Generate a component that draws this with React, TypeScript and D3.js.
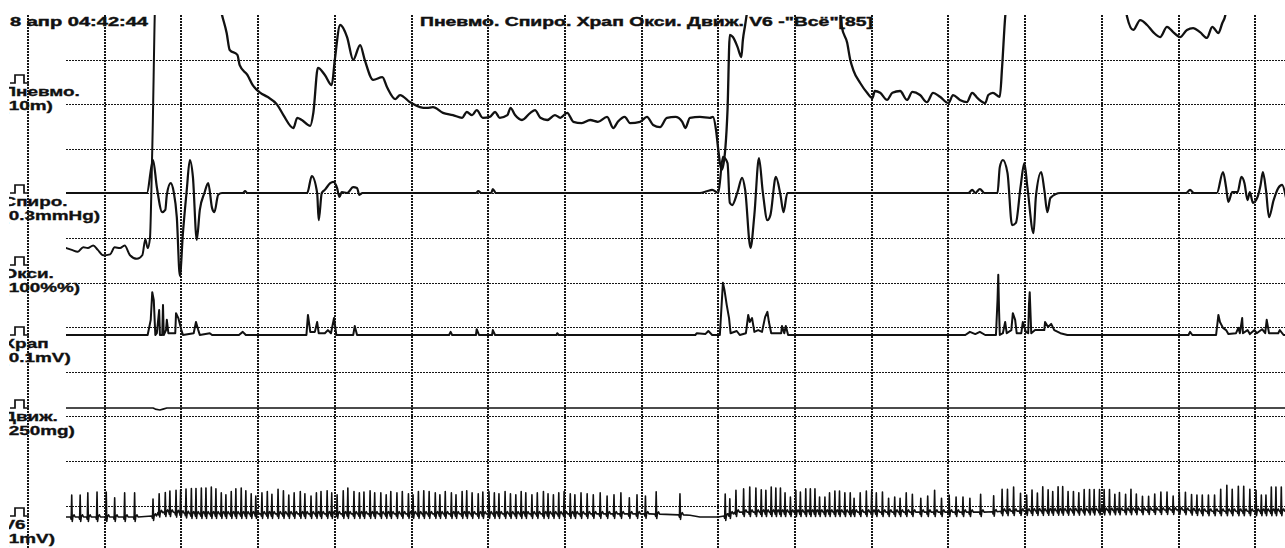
import React from "react";
import * as d3 from "d3";

// screen: 18 апр, one page of the polygraph record, time in seconds (10 s per grid cell)
const titleText = 'Пневмо. Спиро. Храп Окси. Движ. V6 -"Всё"[85]';
const stampText = "8 апр 04:42:44";
const channelNames = ["Пневмо.", "Спиро.", "Окси.", "Храп", "Движ.", "V6"];
const channelUnits = ["(10m)", "(0.3mmHg)", "(100%%)", "(0.1mV)", "(250mg)", "(1mV)"];

// Пневмо. [t, value], 10 units per division, values above 30 are off scale
const pneumo: [number, number][] = [
  [5, 40], [24, 40], [25.3, 30], [25.9, 26], [26.3, 22.2], [27.3, 21.1], [27.6, 18.8],
  [28.6, 16.6], [29.3, 14.3], [30.3, 12.6], [31.2, 11.7], [32.5, 9.9], [33.3, 7.6],
  [34.6, 4.7], [35.1, 7.0], [35.7, 6.5], [36.8, 5.2], [37.2, 8.1], [37.8, 18.2],
  [38.7, 16.6], [39.6, 14.3], [40.0, 20.0], [40.7, 27.8], [41.6, 25.1], [42.4, 20.0],
  [43.3, 23.3], [43.9, 20.0], [45.0, 15.5], [46.2, 16.1], [46.8, 13.9], [47.9, 11.2],
  [48.5, 12.1], [49.8, 10.5], [51.1, 9.4], [52.0, 9.2], [52.8, 9.4], [54.1, 8.1],
  [55.4, 7.6], [56.6, 7.0], [57.2, 8.3], [57.9, 7.6], [58.5, 8.7], [59.3, 7.0],
  [60.2, 7.2], [60.9, 8.3], [61.5, 7.0], [62.5, 7.6], [62.9, 9.2], [63.5, 7.6],
  [64.4, 6.5], [65.5, 8.1], [66.1, 8.7], [66.8, 7.0], [67.7, 6.5], [68.7, 7.6],
  [69.4, 7.0], [70.3, 8.1], [71.1, 6.1], [72.2, 5.8], [73.3, 6.5], [74.3, 6.1],
  [75.5, 7.2], [76.3, 4.7], [76.9, 6.1], [77.8, 7.2], [78.5, 5.8], [79.8, 6.1],
  [80.7, 7.2], [81.5, 5.4], [82.4, 4.9], [83.3, 7.0], [84.4, 7.2], [85.3, 6.1],
  [85.7, 4.7], [86.3, 7.0], [87.6, 7.2], [88.9, 7.0], [89.3, 7.2], [89.7, 4.3],
  [90.0, -0.2], [90.4, -4.7], [90.6, -4.0], [91.2, 8.7], [91.5, 25.6], [91.9, 25.1],
  [92.5, 22.9], [93.0, 20.6], [93.2, 24.4], [93.5, 27.8], [93.9, 32.3], [95, 40],
  [105, 40], [105.6, 35.6], [106.1, 27.4], [106.8, 23.8], [107.2, 20.0], [107.6, 17.7],
  [108.5, 14.8], [109.4, 12.6], [110.1, 11.4], [110.4, 13.0], [111.1, 12.6], [112.0, 11.0],
  [112.7, 12.6], [113.7, 13.0], [114.6, 11.0], [115.3, 12.8], [116.3, 12.1], [117.2, 10.5],
  [118.0, 12.6], [118.9, 11.7], [120.0, 10.3], [120.6, 12.1], [121.5, 11.0], [122.4, 10.5],
  [123.1, 12.6], [123.8, 11.4], [124.8, 10.3], [125.2, 12.1], [125.8, 12.6], [126.7, 11.7],
  [127.0, 18.4], [127.4, 29.6], [127.8, 35.6], [129, 40], [142, 40], [142.8, 35.6],
  [143.3, 29.6], [144.1, 26.7], [145.0, 28.9], [145.9, 27.8], [146.7, 26.2], [147.6, 25.1],
  [148.5, 27.4], [149.3, 26.2], [150.2, 25.1], [151.1, 26.7], [151.9, 27.1], [152.8, 26.2],
  [153.7, 24.9], [154.4, 27.4], [155.2, 26.0], [155.7, 28.2], [156.1, 30.0], [156.5, 35.6],
  [158, 40], [164, 40],
];

// Спиро. [t, value], 10 units per division
const spiro: [number, number][] = [
  [5, 0], [15.5, 0], [16.3, 7.4], [16.8, 1.3], [17.5, -4.3], [17.9, -3.8], [18.1, -0.4],
  [18.6, 2.2], [19.0, 0.2], [19.4, -5.4], [19.8, -18.6], [20.2, -9.0], [20.7, 0.7],
  [21.1, 7.4], [21.5, 3.6], [22.0, -10.5], [22.4, -3.8], [23.0, 0], [23.5, 2.2],
  [24.0, -3.4], [24.3, -4.3], [24.8, -0.4], [25.3, 0], [28.0, 0], [28.3, 0.4], [28.6, 0],
  [36.4, 0], [37.0, 3.8], [37.7, 0], [37.9, -6.1], [38.3, 0], [38.7, 0.7], [39.4, 2.2],
  [39.8, 2.5], [40.3, 1.1], [40.6, -0.9], [40.9, 0.2], [41.6, 0], [42.4, 1.3], [42.9, 1.1],
  [43.2, -0.4], [43.6, 0], [58.4, 0], [58.7, 0.4], [59.1, 0], [60.4, 0], [60.6, 0.9],
  [61.0, 0], [87.6, 0], [88.5, 0.4], [89.2, 0.7], [90.0, 0], [90.6, 8.1], [91.2, 6.7],
  [91.5, -2.2], [91.8, -2.7], [92.5, 0.2], [93.1, 3.4], [93.5, 0.7], [94.2, -12.3],
  [94.7, -4.9], [95.3, 7.8], [95.8, 0.2], [96.4, -6.1], [96.8, -4.9], [97.5, 3.6],
  [98.1, -0.4], [98.5, -4.3], [99.0, 0], [122.6, 0], [123.1, 0.7], [123.5, 0], [124.1, 0.9],
  [124.7, 0], [126.4, 0], [126.7, 5.8], [127.1, 7.4], [127.7, 4.5], [128.3, -7.2],
  [128.8, -6.7], [129.4, 1.3], [129.9, 6.7], [130.3, 1.3], [131.1, -9.0], [131.4, -0.9],
  [132.1, 4.7], [132.5, 0.7], [132.9, -4.3], [133.3, -1.1], [134.6, 0], [151.0, 0],
  [151.5, 0.7], [152.0, 0], [155.0, 0], [155.8, 4.7], [156.2, 1.3], [156.5, -2.0],
  [157.0, 0.2], [157.7, 0.2], [158.2, 3.6], [158.6, 2.2], [159.0, -1.6], [159.3, 0.2],
  [159.7, -2.2], [160.3, -0.9], [160.7, 1.8], [161.0, 4.7], [161.4, 0.7], [161.8, -5.4],
  [162.4, -1.6], [163.0, 1.1], [163.5, 1.8], [164, -0.9],
];

// Окси. [t, %], 5 % per division, off scale after the jump
const oxy: [number, number][] = [
  [5, 93.8], [5.7, 93.6], [6.5, 93.4], [7.2, 93.9], [7.8, 93.8], [8.5, 94.1], [9.1, 93.6],
  [9.8, 93.0], [10.7, 93.1], [11.3, 93.9], [12.0, 93.8], [12.6, 94.1], [13.3, 93.0],
  [14.2, 92.6], [14.9, 93.0], [15.3, 94.8], [15.6, 93.8], [15.9, 94.9], [16.2, 104.8],
  [16.7, 124], [164, 124],
];

// Храп [t, µV]
const snore: [number, number][] = [
  [5, 0], [15.6, 0], [16.0, 34], [16.2, 96], [16.4, 78], [16.6, 0], [16.8, 4], [17.1, 56],
  [17.2, 0], [17.5, 0], [17.6, 67], [17.7, 0], [18.0, 11], [18.1, 34], [18.3, 4], [19.2, 4],
  [19.3, 49], [19.6, 38], [20.0, 11], [20.2, 0], [21.6, 4], [21.9, 29], [22.2, 11], [22.4, 0],
  [23.7, 4], [24.0, 0], [27.5, 0], [28.0, 7], [28.4, 0], [36.3, 0], [36.5, 45], [36.8, 7],
  [37.4, 7], [37.7, 29], [37.9, 4], [38.7, 4], [39.1, 11], [39.5, 4], [39.9, 38], [40.2, 0],
  [42.4, 0], [42.6, 20], [42.9, 0], [54.9, 0], [55.1, 7], [55.3, 0], [58.4, 0], [58.5, 13],
  [58.8, 0], [60.5, 0], [60.6, 11], [60.9, 0], [68.9, 0], [69.0, 4], [69.2, 0], [87.0, 0],
  [87.2, 4], [88.3, 2], [88.7, 9], [89.2, 0], [90.2, 0], [90.6, 117], [90.8, 101], [91.1, 67],
  [91.4, 38], [91.6, 4], [92.4, 9], [92.8, 0], [93.6, 4], [93.9, 45], [94.1, 29], [94.4, 38],
  [94.7, 7], [95.2, 11], [95.7, 7], [96.1, 40], [96.4, 52], [96.6, 29], [96.9, 4], [98.2, 4],
  [98.3, 20], [98.6, 4], [98.8, 20], [99.1, 0], [122.2, 0], [122.8, 7], [123.5, 2], [124.1, 7],
  [124.8, 0], [126.2, 0], [126.4, 78], [126.5, 135], [126.6, 56], [126.7, 0], [127.1, 4],
  [127.4, 29], [127.6, 4], [128.2, 11], [128.4, 49], [128.7, 34], [128.9, 4], [129.5, 4],
  [129.7, 29], [130.1, 7], [130.4, 4], [130.5, 67], [130.6, 96], [130.8, 4], [131.3, 11],
  [132.5, 11], [132.6, 29], [133.0, 18], [133.4, 25], [133.8, 11], [134.6, 4], [135.5, 0],
  [151.3, 0], [151.5, 7], [151.8, 0], [154.9, 0], [155.2, 45], [155.4, 29], [155.8, 16],
  [156.2, 11], [156.5, 2], [157.5, 4], [157.8, 16], [158.0, 4], [158.3, 38], [158.4, 4],
  [159.0, 11], [159.3, 2], [159.9, 11], [160.2, 4], [160.9, 13], [161.3, 4], [161.5, 34],
  [161.8, 4], [163.0, 4], [163.2, 11], [163.7, 0], [164, 0],
];

// Движ. [t, mg]
const movement: [number, number][] = [
  [5, 0], [16.3, 0], [16.6, -6], [17.2, -11], [17.6, -6], [18.1, 0], [164, 0],
];

// V6 isoline drift [t, mV]
const ecgBaseline: [number, number][] = [
  [5, 0], [15.9, 0], [16.6, 0.04], [17.2, 0.11], [18.5, 0.11], [19.8, 0.09], [21.1, 0.07],
  [81.1, 0.07], [86.3, 0.04], [87.6, 0], [90.0, 0], [90.5, -0.04], [91.0, 0.04],
  [92.2, 0.11], [125.4, 0.11], [126.7, 0.13], [150.2, 0.16], [152.8, 0.13], [164, 0.13],
];

// V6 R waves [t, amplitude mV]
const ecgBeats: [number, number][] = [
  [5.7, 0.49], [6.8, 0.49], [7.8, 0.54], [9.0, 0.56], [10.2, 0.56], [11.3, 0.43], [12.6, 0.54], [13.9, 0.54],
  [16.3, 0.38], [17.1, 0.42], [17.9, 0.44], [18.5, 0.47], [19.3, 0.5], [19.9, 0.52], [20.6, 0.55],
  [21.3, 0.57], [21.9, 0.57], [22.6, 0.58], [23.2, 0.58], [23.9, 0.6], [24.5, 0.56], [25.2, 0.47],
  [25.8, 0.43], [26.5, 0.5], [27.1, 0.56], [27.8, 0.58], [28.4, 0.52], [29.1, 0.45], [29.7, 0.4],
  [30.5, 0.47], [31.2, 0.5], [31.8, 0.44], [32.6, 0.55], [33.3, 0.52], [34.0, 0.42], [34.7, 0.47],
  [35.5, 0.5], [36.1, 0.45], [36.9, 0.4], [37.6, 0.47], [38.2, 0.5], [39.0, 0.52], [39.6, 0.47],
  [40.3, 0.43], [41.1, 0.52], [41.7, 0.58], [42.5, 0.5], [43.2, 0.47], [43.8, 0.49], [44.6, 0.52],
  [45.2, 0.47], [46.0, 0.47], [46.7, 0.43], [47.3, 0.5], [48.1, 0.47], [48.8, 0.5], [49.6, 0.45],
  [50.2, 0.43], [50.9, 0.5], [51.6, 0.52], [52.3, 0.5], [53.1, 0.47], [53.7, 0.43], [54.4, 0.5],
  [55.2, 0.47], [55.8, 0.43], [56.6, 0.5], [57.2, 0.52], [57.9, 0.47], [58.7, 0.45], [59.3, 0.49],
  [60.1, 0.5], [60.8, 0.47], [61.4, 0.45], [62.2, 0.5], [62.9, 0.45], [63.6, 0.43], [64.3, 0.5],
  [64.9, 0.47], [65.7, 0.43], [66.4, 0.47], [67.2, 0.5], [67.8, 0.45], [68.5, 0.43], [69.2, 0.47],
  [69.9, 0.5], [70.7, 0.45], [71.3, 0.43], [72.1, 0.47], [72.9, 0.45], [73.7, 0.43], [74.6, 0.47],
  [75.5, 0.4], [76.4, 0.43], [77.3, 0.47], [78.4, 0.36], [79.4, 0.43], [80.5, 0.4], [81.9, 0.5],
  [85.0, 0.47],
  [90.9, 0.49], [91.5, 0.34], [92.3, 0.49], [93.3, 0.52], [94.1, 0.56], [94.9, 0.54], [95.6, 0.5],
  [96.2, 0.49], [96.9, 0.56], [97.5, 0.54], [98.1, 0.54], [98.7, 0.43], [99.4, 0.34], [100.1, 0.49],
  [100.7, 0.45], [101.4, 0.52], [102.0, 0.52], [102.6, 0.52], [103.2, 0.34], [103.9, 0.34],
  [104.5, 0.43], [105.2, 0.47], [105.8, 0.47], [106.5, 0.43], [107.2, 0.43], [107.7, 0.31],
  [108.5, 0.43], [109.3, 0.47], [110.0, 0.47], [110.6, 0.43], [111.4, 0.45], [112.2, 0.31],
  [113.0, 0.34], [113.7, 0.31], [114.5, 0.43], [115.3, 0.4], [116.4, 0.31], [117.3, 0.36],
  [118.2, 0.49], [119.1, 0.31], [120.1, 0.38], [121.0, 0.34], [121.9, 0.34], [122.8, 0.31],
  [124.2, 0.4], [125.9, 0.36],
  [127.0, 0.49], [127.7, 0.49], [128.5, 0.54], [129.4, 0.4], [130.2, 0.36], [130.9, 0.47],
  [131.6, 0.4], [132.3, 0.54], [133.0, 0.47], [133.6, 0.43], [134.3, 0.54], [134.9, 0.54],
  [135.6, 0.43], [136.3, 0.43], [137.0, 0.4], [137.7, 0.47], [138.4, 0.47], [139.0, 0.47],
  [139.7, 0.47], [140.3, 0.47], [141.0, 0.47], [141.7, 0.36], [142.3, 0.4], [143.1, 0.36],
  [143.8, 0.47], [144.5, 0.36], [145.3, 0.31], [146.1, 0.31], [146.9, 0.36], [147.7, 0.4],
  [148.5, 0.4], [149.3, 0.31], [150.1, 0.4], [150.9, 0.4], [151.7, 0.36], [152.4, 0.36],
  [153.1, 0.36], [153.9, 0.36], [154.7, 0.36], [155.5, 0.49], [156.3, 0.58], [157.0, 0.49],
  [157.8, 0.56], [158.5, 0.56], [159.3, 0.49], [160.1, 0.47], [160.8, 0.36], [161.4, 0.36],
  [162.1, 0.54], [162.7, 0.54], [163.4, 0.54],
];

const INK = "#111";
const GRID = "#161616";
const FONT = "'Liberation Sans', Arial, sans-serif";

export default function App() {
  const width = 1285,
    height = 548;
  const top = 15,
    plotLeft = 66;

  const x = d3.scaleLinear().domain([0, 164]).range([28, 1285.9]);
  const gridY = d3.scaleLinear().domain([0, 11]).range([top, 505.6]);

  const pneumoY = d3.scaleLinear().domain([0, 10]).range([149, 104.4]);
  const spiroY = d3.scaleLinear().domain([0, 10]).range([193, 148.4]);
  const oxyY = d3.scaleLinear().domain([90, 95]).range([282, 237.4]);
  const snoreY = d3.scaleLinear().domain([0, 100]).range([335, 290.4]);
  const moveY = d3.scaleLinear().domain([0, 250]).range([408, 363.4]);
  const ecgY = d3.scaleLinear().domain([0, 1]).range([517, 472.4]);

  const lineFor = (y: d3.ScaleLinear<number, number>, smooth = false) => {
    const l = d3
      .line<[number, number]>()
      .x((d) => x(d[0]))
      .y((d) => y(d[1]));
    return smooth ? l.curve(d3.curveMonotoneX) : l;
  };

  // V6: isoline plus a small q-R-s-T complex at every beat
  const iso = d3
    .scaleLinear()
    .domain(ecgBaseline.map((d) => d[0]))
    .range(ecgBaseline.map((d) => d[1]))
    .clamp(true);
  const ecgPts: [number, number][] = [];
  ecgBeats.forEach(([t, a]) => {
    const b = iso(t);
    ecgPts.push(
      [t - 0.16, b],
      [t - 0.07, b - 0.05],
      [t, b + a],
      [t + 0.07, b - 0.1],
      [t + 0.15, b],
      [t + 0.3, b + 0.05],
      [t + 0.45, b]
    );
  });
  ecgBaseline.forEach((k) => {
    if (!ecgBeats.some(([t]) => Math.abs(t - k[0]) < 0.55)) ecgPts.push(k);
  });
  ecgPts.sort((a, b) => a[0] - b[0]);

  const traces = [
    { d: lineFor(pneumoY, true)(pneumo), w: 2.3 },
    { d: lineFor(spiroY, true)(spiro), w: 2.2 },
    { d: lineFor(oxyY, true)(oxy), w: 2 },
    { d: lineFor(snoreY)(snore), w: 2 },
    { d: lineFor(moveY)(movement), w: 1.7 },
    { d: lineFor(ecgY)(ecgPts), w: 1.6 },
  ];

  // calibration pulse foot for each channel label
  const labelBase = [83, 193, 265, 335, 408, 516];

  return (
    <svg
      width={width}
      height={height}
      style={{ position: "absolute", left: 0, top: 0, background: "#fff" }}
      fontFamily={FONT}
      fontWeight="bold"
    >
      <defs>
        <clipPath id="plot">
          <rect x={plotLeft} y={top} width={width - plotLeft} height={height - top} />
        </clipPath>
        <clipPath id="labels">
          <rect x={9} y={0} width={120} height={height} />
        </clipPath>
      </defs>
      <rect width={width} height={height} fill="#fff" />

      {/* grid */}
      <g stroke={GRID} fill="none">
        {d3.range(1, 12).map((k) => (
          <line
            key={"h" + k}
            x1={plotLeft}
            x2={width}
            y1={Math.round(gridY(k)) + 0.5}
            y2={Math.round(gridY(k)) + 0.5}
            strokeWidth={1.2}
            strokeDasharray="2,1"
          />
        ))}
        {d3.range(0, 161, 10).map((t) => (
          <line
            key={"v" + t}
            x1={Math.round(x(t))}
            x2={Math.round(x(t))}
            y1={top}
            y2={height}
            strokeWidth={2}
            strokeDasharray="2,1"
          />
        ))}
      </g>

      {/* traces */}
      <g clipPath="url(#plot)" fill="none" stroke={INK} strokeLinejoin="round" strokeLinecap="round">
        {traces.map((tr, i) => (
          <path key={i} d={tr.d || ""} strokeWidth={tr.w} />
        ))}
      </g>

      {/* header */}
      <g fill={INK} stroke={INK} strokeWidth={0.45}>
        <text x={10} y={26} fontSize={13.5} textLength={138} lengthAdjust="spacingAndGlyphs">
          {stampText}
        </text>
        <text x={420} y={26} fontSize={13.5} textLength={453} lengthAdjust="spacingAndGlyphs">
          {titleText}
        </text>
      </g>

      {/* channel labels */}
      <g clipPath="url(#labels)" fill={INK}>
        {channelNames.map((name, i) => {
          const b = labelBase[i];
          return (
            <g key={name}>
              <path
                d={`M10,${b}H15V${b - 8}H24V${b}H29`}
                fill="none"
                stroke={INK}
                strokeWidth={1.7}
              />
              <g stroke={INK} strokeWidth={0.35}>
                <text transform={`translate(2.5,${b + 13}) scale(1.4,1)`} fontSize={13.5}>
                  {name}
                </text>
                <text transform={`translate(2.5,${b + 27}) scale(1.4,1)`} fontSize={13.5}>
                  {channelUnits[i]}
                </text>
              </g>
            </g>
          );
        })}
      </g>
    </svg>
  );
}
